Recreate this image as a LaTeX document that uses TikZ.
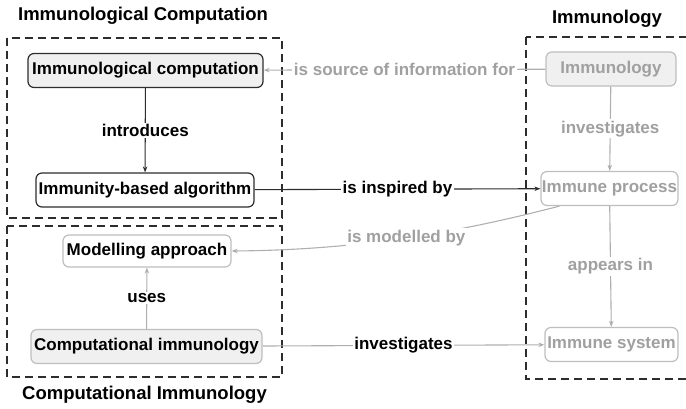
\documentclass[tikz,border=0pt]{standalone}
\usepackage{fontspec}
\setmainfont{Liberation Sans}
\usetikzlibrary{arrows.meta}

\begin{document}
\begin{tikzpicture}[x=1pt,y=-1pt,font=\fontsize{17}{19}\selectfont\bfseries,
		concepto/.style={draw=bordeoscuro, rounded corners=6pt, line width=1.2pt, inner sep=0pt,
			minimum height=34pt, fill=white, text=black},
		sombreado/.style={fill=fondogris},
		claro/.style={draw=bordeclaro},
		tenue/.style={text=textogris},
		enlace/.style={line width=1.1pt, -{Stealth[length=6pt,width=4.5pt]}},
		etiqueta/.style={midway, fill=white, inner sep=1.5pt, text=black},
		grupo/.style={draw=bordeoscuro, line width=1.3pt, dash pattern=on 8pt off 5pt},
		titulo/.style={font=\fontsize{18.5}{22}\selectfont\bfseries, anchor=base}]
		%%% Colores
		\definecolor{bordeoscuro}{RGB}{45,45,45}
		\definecolor{bordeclaro}{RGB}{190,190,190}
		\definecolor{fondogris}{RGB}{240,240,240}
		\definecolor{textogris}{RGB}{160,160,160}
		\definecolor{lineagris}{RGB}{175,175,175}

		\clip (0,0) rectangle (686,408);

		%%% Grupos (cajas discontinuas)
		\draw[grupo] (7,38) rectangle (282,218);
		\draw[grupo] (7,226) rectangle (282,377);
		\draw[grupo] (526,37) rectangle (700,379);

		\node[titulo] (tcomp) at (143,20) {Immunological Computation};
		\node[titulo] (tinmuno) at (607,23) {Immunology};
		\node[titulo] (tinmcomp) at (144.5,399) {Computational Immunology};

		%%% Conceptos
		\node[concepto, sombreado, minimum width=235pt] (compu) at (145.5,70.5) {Immunological computation};
		\node[concepto, minimum width=218pt] (algo) at (145,190) {Immunity-based algorithm};
		\node[concepto, claro, minimum width=168pt, minimum height=32pt] (modelado) at (147,251) {Modelling approach};
		\node[concepto, claro, sombreado, minimum width=231pt] (inmcomp) at (146.5,346.5) {Computational immunology};
		\node[concepto, claro, sombreado, tenue, minimum width=130pt] (inmuno) at (611,69) {Immunology};
		\node[concepto, claro, tenue, minimum width=137pt] (proceso) at (609.5,188.5) {Immune process};
		\node[concepto, claro, tenue, minimum width=133pt] (sistema) at (611.5,344.5) {Immune system};

		%%% Relaciones
		\draw[enlace, bordeoscuro] (compu) -- node[etiqueta] {introduces} (algo);
		\draw[enlace, bordeoscuro] (algo) -- node[etiqueta] {is inspired by} (proceso);
		\draw[enlace, lineagris] (inmuno) -- node[etiqueta, tenue] {is source of information for} (compu);
		\draw[enlace, lineagris] (inmuno) -- node[etiqueta, tenue] {investigates} (proceso);
		\draw[enlace, lineagris] (proceso) -- node[etiqueta, tenue] {appears in} (sistema);
		\draw[enlace, lineagris] ([xshift=19pt]proceso.south west) .. controls (460,232) and (360,250) ..
			node[etiqueta, tenue] {is modelled by} (modelado.east);
		\draw[enlace, lineagris] (inmcomp) -- node[etiqueta] {uses} (modelado);
		\draw[enlace, lineagris] (inmcomp) -- node[etiqueta] {investigates} (sistema);
	\end{tikzpicture}
\end{document}
